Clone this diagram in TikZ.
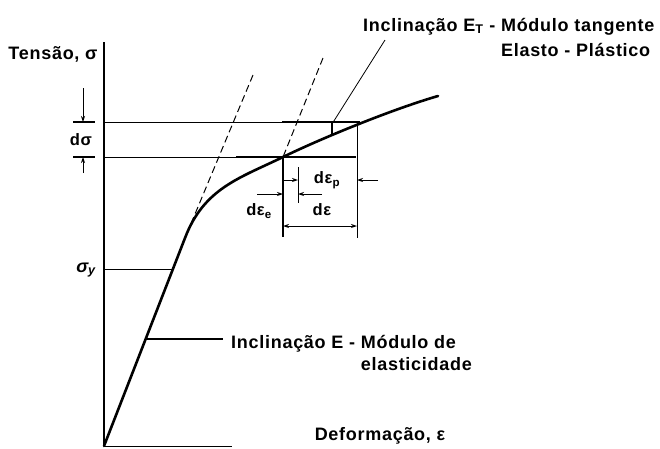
\documentclass[tikz,border=0pt]{standalone}
\usepackage{fontspec}
\setmainfont{Liberation Sans}[LetterSpace=4]
\usetikzlibrary{arrows.meta}

\begin{document}
\begin{tikzpicture}[x=1pt, y=-1pt,
        font=\bfseries\fontsize{18}{23}\selectfont,
        lbl/.style={inner sep=0pt},
        small/.style={inner sep=0pt, font=\bfseries\fontsize{16.5}{18}\selectfont},
        axis/.style={line width=1.4pt},
        curve/.style={line width=2.6pt, line cap=round},
        thin/.style={line width=0.8pt},
        heavy/.style={line width=2.2pt},
        dashl/.style={line width=1pt, dash pattern=on 7pt off 4pt},
        dim/.style={-{Stealth[length=6pt,width=4pt]}, line width=0.9pt},
        ddim/.style={{Stealth[length=6pt,width=4pt]}-{Stealth[length=6pt,width=4pt]}, line width=0.9pt}
    ]
    \useasboundingbox (0,0) rectangle (660,448);
    % axes and points of the curve
    \coordinate (O) at (104,446);
    \coordinate (ytop) at (104,42);
    \coordinate (xend) at (232,446);
    \coordinate (A) at (185,238);
    \coordinate (B) at (283,157);
    \coordinate (C) at (360,122);
    \coordinate (D) at (438,96);
    \coordinate (s1) at (104,122);
    \coordinate (s2) at (104,157);
    \coordinate (sy) at (104,269);
    \coordinate (Y) at (173,269);
    \draw[axis] (ytop) -- (O);
    \draw[thin] (O) -- (xend);
    \draw[curve] (O) -- (A) .. controls (204,188) and (240,178) .. (B)
        .. controls (320,139) and (390,110) .. (D);
    \draw[thin] (sy) -- (Y);
    \draw[thin] (s1) -- (C);
    \draw[thin] (s2) -- (B);
    \coordinate (h1) at (282,122);
    \coordinate (h2) at (236,157);
    \coordinate (h3) at (356,157);
    \draw[heavy] (h1) -- (C);
    \draw[heavy] (h2) -- (h3);
    % elastic unloading lines
    \coordinate (da) at (253,75);
    \coordinate (db) at (323,58);
    \draw[dashl] (da) -- (A);
    \draw[dashl] (db) -- (B);
    % tangent modulus
    \coordinate (t1) at (385,40);
    \coordinate (t2) at (332,124);
    \coordinate (v1) at (332,122);
    \coordinate (v2) at (332,135);
    \draw[thin] (t1) -- (t2);
    \draw[heavy] (v1) -- (v2);
    % extension lines
    \coordinate (r1) at (357,122);
    \coordinate (r2) at (357,238);
    \coordinate (b2) at (283,237);
    \coordinate (p1) at (298,167);
    \coordinate (p2) at (298,203);
    \draw[thin] (r1) -- (r2);
    \draw[heavy] (B) -- (b2);
    \draw[thin] (p1) -- (p2);
    % d epsilon
    \coordinate (e1) at (283,226);
    \coordinate (e2) at (357,226);
    \draw[ddim] (e1) -- (e2);
    \node[small] (de) at (322,210) {dε};
    \coordinate (pa) at (283,180);
    \coordinate (pb) at (298,180);
    \coordinate (pc) at (378,180);
    \coordinate (pd) at (357,180);
    \draw[dim] (pa) -- (pb);
    \draw[dim] (pc) -- (pd);
    \node[small] (dep) at (327,180) {dε\textsubscript{p}};
    \coordinate (qa) at (257,194);
    \coordinate (qb) at (283,194);
    \coordinate (qc) at (322,194);
    \coordinate (qd) at (298,194);
    \draw[dim] (qa) -- (qb);
    \draw[dim] (qc) -- (qd);
    \node[small] (dee) at (259,211) {dε\textsubscript{e}};
    % d sigma
    \coordinate (k1) at (73,122);
    \coordinate (k2) at (95,122);
    \coordinate (k3) at (73,157);
    \coordinate (k4) at (95,157);
    \draw[heavy] (k1) -- (k2);
    \draw[heavy] (k3) -- (k4);
    \coordinate (m1) at (83,88);
    \coordinate (m2) at (83,122);
    \coordinate (m3) at (83,173);
    \coordinate (m4) at (83,157);
    \draw[dim] (m1) -- (m2);
    \draw[dim] (m3) -- (m4);
    \node[small] (ds) at (81,140) {dσ};
    \node[lbl] (sigy) at (86,270) {\itshape σ\textsubscript{y}};
    % labels
    \node[lbl] (tens) at (53,54) {Tensão, σ};
    \node[lbl] (def) at (380,436) {Deformação, ε};
    \node[lbl, anchor=base west, align=left, font=\bfseries\fontsize{18}{25}\selectfont] (incT) at (363,56)
        {Inclinação E\textsubscript{T} - Módulo tangente\\
         \phantom{Inclinação E\textsubscript{T} - }Elasto - Plástico};
    \node[lbl, anchor=base west, align=left, font=\bfseries\fontsize{18}{22}\selectfont] (incE) at (231,370)
        {Inclinação E - Módulo de\\
         \phantom{Inclinação E - }elasticidade};
    \coordinate (Ep) at (145,339);
    \coordinate (Eend) at (223,339);
    \draw[heavy] (Ep) -- (Eend);
\end{tikzpicture}
\end{document}
